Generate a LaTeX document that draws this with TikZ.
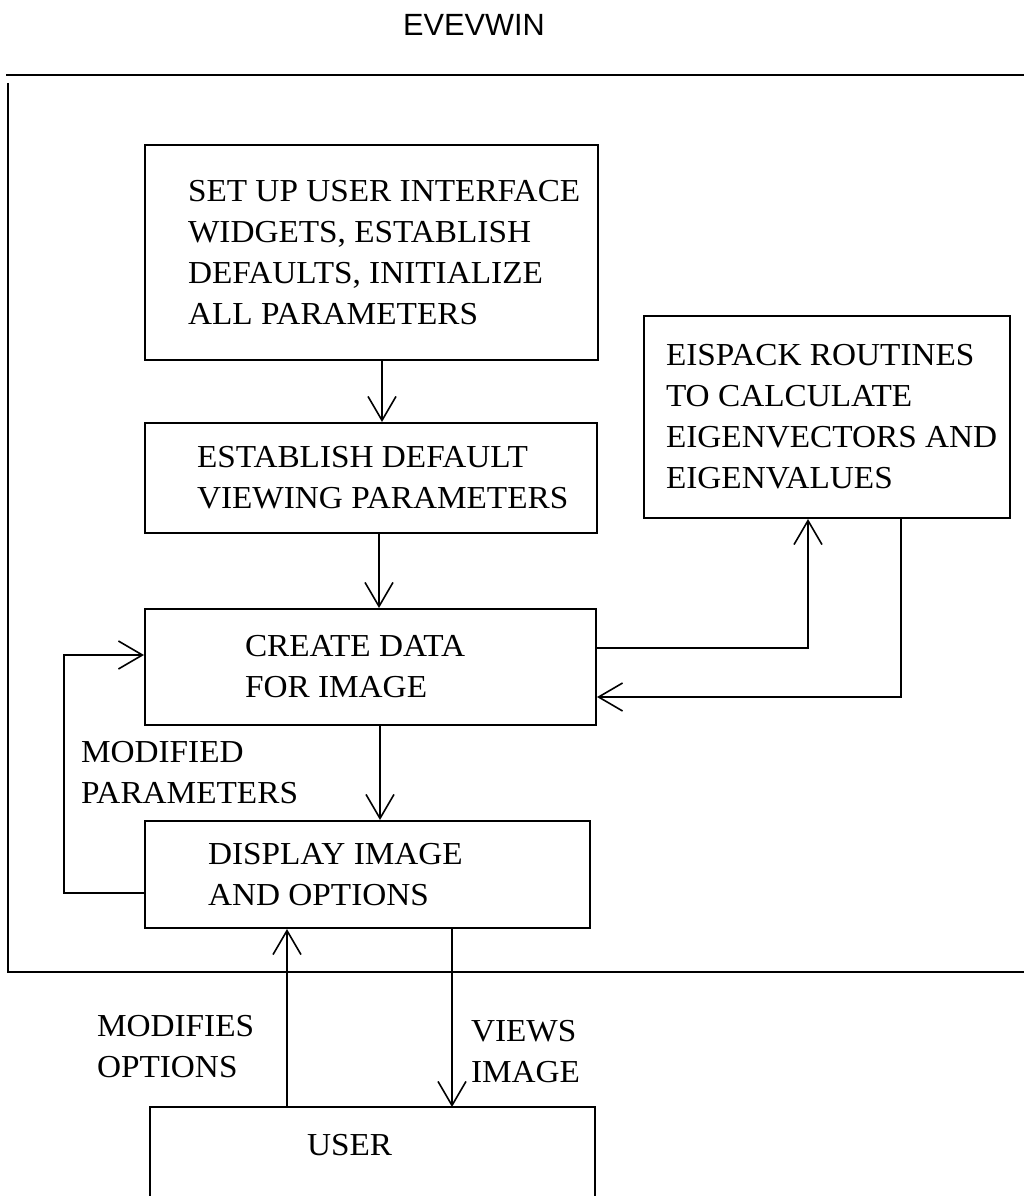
\documentclass[tikz,border=0pt]{standalone}
\usepackage{fontspec}
\setmainfont[FakeStretch=1.04]{Liberation Serif}
\newfontfamily\titlefont{Liberation Sans}
\usetikzlibrary{arrows.meta,positioning}

\begin{document}
\begin{tikzpicture}[x=1pt,y=-1pt,line width=2pt,
    >={Straight Barb[length=24pt,width=28pt,line width=1.6pt]}]
    \tikzstyle{box}=[rectangle,draw,inner sep=0pt]
    \tikzstyle{txt}=[inner sep=0pt,align=left,font=\fontsize{32}{41}\selectfont]
    \tikzstyle{flow}=[->,line width=2pt]

    \useasboundingbox (0,0) rectangle (1024,1196);

    % title and frame of the program
    \node[inner sep=0pt,font=\titlefont\fontsize{30.7}{36}\selectfont] (title) at (474,25) {EVEVWIN};
    \draw[line width=2.5pt] (6,75) -- (1024,75);
    \draw[line width=2.2pt] (8,83) |- (1024,972);

    % boxes
    \node[box,minimum width=453pt,minimum height=215pt] (setup) at (371.5,252.5) {};
    \node[box,minimum width=452pt,minimum height=110pt] (defaults) at (371,478) {};
    \node[box,minimum width=451pt,minimum height=116pt] (create) at (370.5,667) {};
    \node[box,minimum width=445pt,minimum height=107pt] (display) at (367.5,874.5) {};
    \node[box,minimum width=366pt,minimum height=202pt] (eispack) at (827,417) {};
    \node[inner sep=0pt,minimum width=443pt,minimum height=100pt] (user) at (372.5,1158) {};
    \draw (user.south west) |- (user.north east) -- (user.south east);

    % box texts
    \node[txt,right=43pt of setup.west] (setup-t)
        {SET UP USER INTERFACE\\WIDGETS, ESTABLISH\\DEFAULTS, INITIALIZE\\ALL PARAMETERS};
    \node[txt,right=52pt of defaults.west] (defaults-t)
        {ESTABLISH DEFAULT\\VIEWING PARAMETERS};
    \node[txt,right=100pt of create.west] (create-t) {CREATE DATA\\FOR IMAGE};
    \node[txt,right=63pt of display.west] (display-t) {DISPLAY IMAGE\\AND OPTIONS};
    \node[txt,right=22pt of eispack.west] (eispack-t)
        {EISPACK ROUTINES\\TO CALCULATE\\EIGENVECTORS AND\\EIGENVALUES};
    \node[txt,right=156pt of user.west,yshift=13pt] (user-t) {USER};

    % connector labels
    \node[txt,anchor=west] (modpar) at (80,773) {MODIFIED\\PARAMETERS};
    \node[txt,anchor=west] (modopt) at (96,1047) {MODIFIES\\OPTIONS};
    \node[txt,anchor=west] (views) at (470,1052) {VIEWS\\IMAGE};

    % main flow
    \draw[flow] ([xshift=10.5pt]setup.south) -- ([xshift=10.5pt]setup.south |- defaults.north);
    \draw[flow] ([xshift=8pt]defaults.south) -- ([xshift=8pt]defaults.south |- create.north);
    \draw[flow] ([xshift=9.5pt]create.south) -- ([xshift=9.5pt]create.south |- display.north);

    % eispack loop
    \draw[flow] ([yshift=19pt]create.east) -| ([xshift=-19pt]eispack.south);
    \draw[flow] ([xshift=74pt]eispack.south) |- ([yshift=-30pt]create.east);

    % modified parameters loop
    \draw[flow] ([yshift=-18.5pt]display.west) -- ++(-80,0) |- ([yshift=12pt]create.west);

    % user interaction
    \draw[flow] ([xshift=-85.5pt]user.north) -- ([xshift=-85.5pt]user.north |- display.south);
    \draw[flow] ([xshift=84.5pt]display.south) -- ([xshift=84.5pt]display.south |- user.north);
\end{tikzpicture}
\end{document}
